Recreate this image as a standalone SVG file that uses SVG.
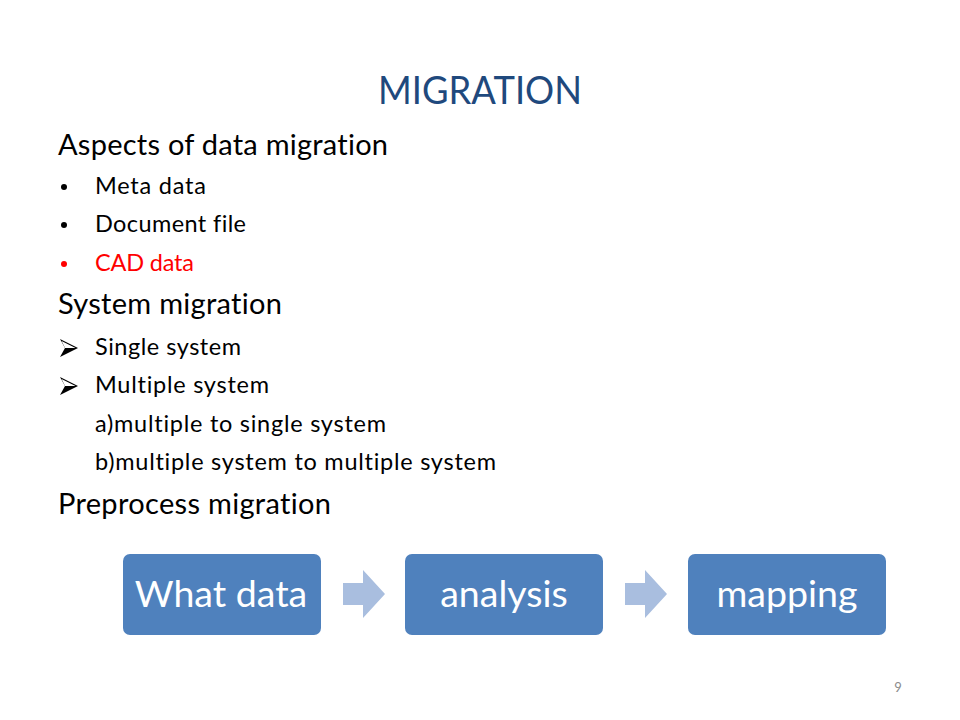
<svg xmlns="http://www.w3.org/2000/svg" width="960" height="720" viewBox="0 0 960 720">
<style>
text{font-family:Lato,"Open Sans","Liberation Sans",sans-serif;font-variant-ligatures:none;}
.h{font-size:29px;fill:#000;}
.b{font-size:23.5px;fill:#000;}
.red{fill:#FF0000;}
.box{fill:#4F81BD;}
.bt{font-size:37.5px;fill:#fff;text-anchor:middle;}
.arr{fill:#A9BEDF;}
</style>
<defs>
<g id="ab">
<polygon points="0,-9 18,0 0,9 5,0" fill="#000"/>
<polygon points="1.5,-7 15.5,0 5,0" fill="#fff"/>
</g>
</defs>
<rect width="960" height="720" fill="#fff"/>
<text x="480" y="104" font-size="38" fill="#1F497D" text-anchor="middle" textLength="204" lengthAdjust="spacingAndGlyphs">MIGRATION</text>
<text class="h" x="58" y="155" textLength="330">Aspects of data migration</text>
<circle cx="64" cy="187" r="3"/>
<text class="b" x="95" y="194" textLength="111">Meta data</text>
<circle cx="64" cy="225" r="3"/>
<text class="b" x="95" y="232" textLength="151">Document file</text>
<circle cx="64" cy="264" r="3" fill="#FF0000"/>
<text class="b red" x="95" y="271" textLength="99">CAD data</text>
<text class="h" x="58" y="314" textLength="224">System migration</text>
<use href="#ab" x="60" y="348"/>
<text class="b" x="95" y="355" textLength="146">Single system</text>
<use href="#ab" x="60" y="386"/>
<text class="b" x="95" y="393" textLength="174">Multiple system</text>
<text class="b" x="95" y="432" textLength="291">a)multiple to single system</text>
<text class="b" x="95" y="470" textLength="401">b)multiple system to multiple system</text>
<text class="h" x="58" y="514" textLength="273">Preprocess migration</text>
<g id="connectors">
<polygon class="arr" points="343,583 363,583 363,570 385,594 363,618 363,605 343,605"/>
<polygon class="arr" points="625,583 645,583 645,570 667,594 645,618 645,605 625,605"/>
</g>
<g id="node-what-data">
<rect class="box" x="123" y="554" width="198" height="81" rx="7"/>
<text class="bt" x="221" y="607">What data</text>
</g>
<g id="node-analysis">
<rect class="box" x="405" y="554" width="198" height="81" rx="7"/>
<text class="bt" x="504" y="607">analysis</text>
</g>
<g id="node-mapping">
<rect class="box" x="688" y="554" width="198" height="81" rx="7"/>
<text class="bt" x="787" y="607">mapping</text>
</g>
<text x="898" y="692" font-size="13" fill="#8C8C8C" text-anchor="middle">9</text>
</svg>
